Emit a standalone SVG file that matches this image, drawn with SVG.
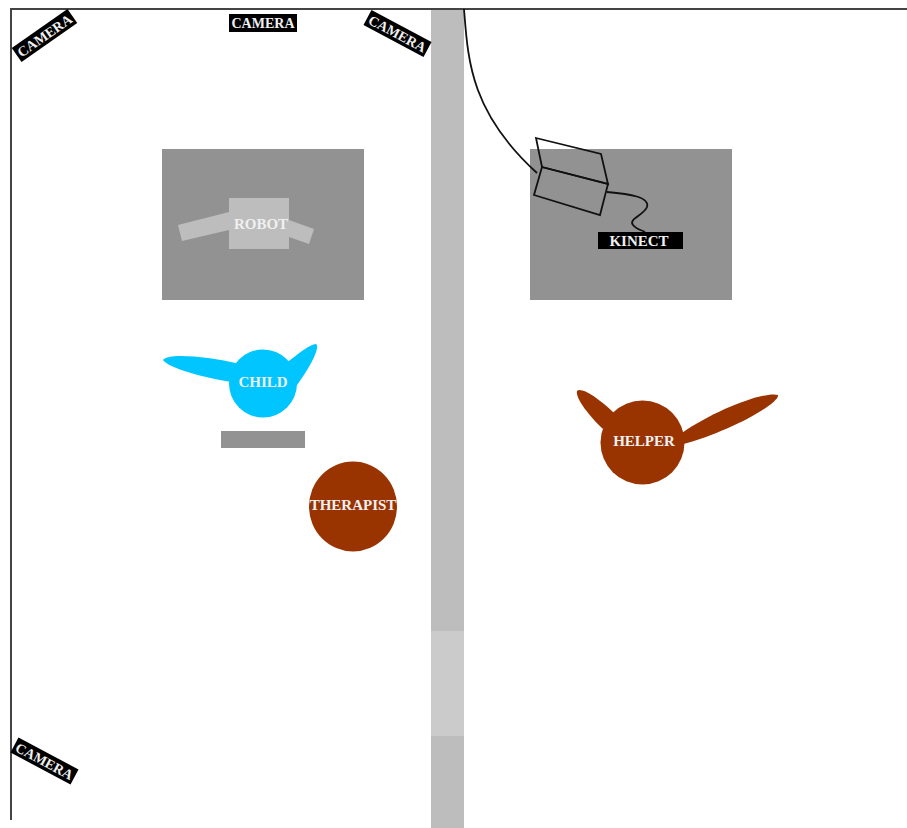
<svg xmlns="http://www.w3.org/2000/svg" width="907" height="828" viewBox="0 0 907 828">
<style>
.lbl{font-family:"Liberation Serif","Times New Roman",serif;font-weight:bold;font-size:15px;fill:#f0f0f0;text-anchor:middle}
.cam{font-size:14px}
.tag{fill:#000}
.table{fill:#929292}
.robot{fill:#bdbdbd}
.line{fill:none;stroke:#111;stroke-width:1.8}
.child{fill:#00c5ff}
.adult{fill:#993300}
</style>
<rect width="907" height="828" fill="#fff"/>
<g id="corridor">
<rect x="431" y="9" width="33" height="819" fill="#bdbdbd"/>
<rect x="431" y="631" width="33" height="105" fill="#cbcbcb"/>
</g>
<g id="walls"><path d="M907 9H11V820" fill="none" stroke="#444" stroke-width="2"/></g>
<g id="camera-1" transform="translate(44.5 35.5) rotate(-35)"><rect class="tag" x="-34" y="-8.5" width="68" height="17"/><text class="lbl cam" y="5">CAMERA</text></g>
<g id="camera-2"><rect class="tag" x="229" y="14" width="68" height="18"/><text class="lbl cam" x="263" y="28">CAMERA</text></g>
<g id="camera-3" transform="translate(397.5 33.5) rotate(28)"><rect class="tag" x="-34" y="-8.5" width="68" height="17"/><text class="lbl cam" y="5">CAMERA</text></g>
<g id="camera-4" transform="translate(44.5 761) rotate(28)"><rect class="tag" x="-34" y="-8.5" width="68" height="17"/><text class="lbl cam" y="5">CAMERA</text></g>
<g id="robot-table">
<rect class="table" x="162" y="149" width="202" height="151"/>
<path class="robot" d="M178 225L229 212V230L182 241Z"/>
<path class="robot" d="M289 220L314 229L309 244L289 237Z"/>
<rect class="robot" x="229" y="198" width="60" height="51"/>
<text class="lbl" x="261" y="229">ROBOT</text>
</g>
<g id="kinect-table"><rect class="table" x="530" y="149" width="202" height="151"/></g>
<g id="connectors">
<path class="line" d="M464 9C468 60 470 112 537 173"/>
<path class="line" d="M607 192C630 194 650 197 647 207C644 215 628 219 633 225C636 229 641 230 645 232"/>
</g>
<g id="kinect">
<path class="line" d="M536 138L601 154L608 184L542 167Z"/>
<path class="line" d="M542 167L608 184L600 215L534 195Z"/>
<rect class="tag" x="598" y="232" width="85" height="17"/>
<text class="lbl" x="639" y="246">KINECT</text>
</g>
<g id="child">
<path class="child" d="M163 360C168 353 205 356 240 364L232 382C205 378 168 368 163 360Z"/>
<path class="child" d="M285 364C298 354 310 344 316 344C320 346 314 362 295 388Z"/>
<circle class="child" cx="263" cy="383.5" r="34"/>
<text class="lbl" x="263" y="387">CHILD</text>
</g>
<g id="child-table"><rect class="table" x="221" y="431" width="84" height="17"/></g>
<g id="therapist">
<ellipse class="adult" cx="353" cy="506.500" rx="44" ry="45"/>
<text class="lbl" x="353" y="510">THERAPIST</text>
</g>
<g id="helper">
<path class="adult" d="M577 391C581 387 596 396 614 413L603 429C590 417 575 398 577 391Z"/>
<path class="adult" d="M682 433C715 410 765 391 778 395C780 403 730 432 680 445Z"/>
<circle class="adult" cx="642.500" cy="442.500" r="42"/>
<text class="lbl" x="644" y="446">HELPER</text>
</g>
</svg>
